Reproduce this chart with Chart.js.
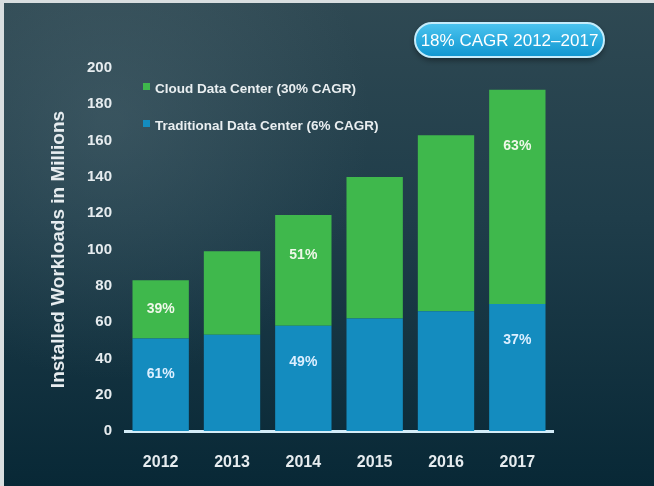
<!DOCTYPE html>
<html>
<head>
<meta charset="utf-8">
<script src="https://cdn.jsdelivr.net/npm/chart.js@4.4.1/dist/chart.umd.min.js"></script>
<style>
    html, body { margin: 0; padding: 0; background: #0b2b3a; }
    #chart { display: block; }
</style>
</head>
<body>
<canvas id="chart" width="654" height="486"></canvas>
<script>
let years = ['2012', '2013', '2014', '2015', '2016', '2017'];
let traditional = [51, 53, 58, 62, 66, 70];
let cloud = [32, 46, 61, 78, 97, 118];
let traditionalShare = ['61%', '', '49%', '', '', '37%'];
let cloudShare = ['39%', '', '51%', '', '', '63%'];
let yMin = 0;
let yMax = 200;
let yStep = 20;
let badgeText = '18% CAGR 2012\u20132017';

const FONT = '"Liberation Sans", Arial, sans-serif';
const GREEN = '#3fb84c';
const BLUE = '#148cbf';

// background, frame and the CAGR badge
const backdrop = {
    id: 'backdrop',
    beforeDraw(chart) {
        let ctx = chart.ctx;
        let w = chart.width, h = chart.height;
        ctx.save();
        let g = ctx.createLinearGradient(0, 0, 0, h);
        g.addColorStop(0, '#2f4953');
        g.addColorStop(0.45, '#1f3d4a');
        g.addColorStop(1, '#082836');
        ctx.fillStyle = g;
        ctx.fillRect(0, 0, w, h);
        let r = ctx.createRadialGradient(110, 120, 10, 110, 120, 260);
        r.addColorStop(0, 'rgba(90,115,125,0.35)');
        r.addColorStop(1, 'rgba(90,115,125,0)');
        ctx.fillStyle = r;
        ctx.fillRect(0, 0, w, h);
        ctx.fillStyle = '#d9dee0';
        ctx.fillRect(0, 0, w, 3);
        ctx.fillRect(0, 0, 4, h);
        ctx.restore();
    },
    afterDraw(chart) {
        let ctx = chart.ctx;
        let x = 415, y = 23, bw = 189, bh = 34, rad = 17;
        ctx.save();
        ctx.shadowColor = 'rgba(0,0,0,0.45)';
        ctx.shadowBlur = 6;
        ctx.shadowOffsetY = 3;
        ctx.beginPath();
        ctx.roundRect(x, y, bw, bh, rad);
        let g = ctx.createLinearGradient(0, y, 0, y + bh);
        g.addColorStop(0, '#4cc4ef');
        g.addColorStop(1, '#0f96d0');
        ctx.fillStyle = g;
        ctx.fill();
        ctx.shadowColor = 'transparent';
        ctx.lineWidth = 2;
        ctx.strokeStyle = '#c4ecfb';
        ctx.stroke();
        ctx.fillStyle = '#ffffff';
        ctx.font = '17px ' + FONT;
        ctx.textAlign = 'center';
        ctx.textBaseline = 'middle';
        ctx.fillText(badgeText, x + bw / 2, y + bh / 2 + 1);
        ctx.restore();
    }
};

// legend drawn inside the plot, cloud first
const innerLegend = {
    id: 'innerLegend',
    afterDraw(chart) {
        let ctx = chart.ctx;
        let left = chart.chartArea.left + 18;
        let top = chart.chartArea.top + 21;
        let items = chart.data.datasets.slice().reverse();
        ctx.save();
        ctx.font = 'bold 13.5px ' + FONT;
        ctx.textBaseline = 'middle';
        items.forEach((ds, i) => {
            let cy = top + i * 37;
            ctx.fillStyle = ds.backgroundColor;
            ctx.fillRect(left, cy - 6, 7, 7);
            ctx.fillStyle = '#e9eef0';
            ctx.fillText(ds.label, left + 12, cy);
        });
        ctx.restore();
    }
};

// share labels inside the bars
const shareLabels = {
    id: 'shareLabels',
    afterDatasetsDraw(chart) {
        let ctx = chart.ctx;
        let shares = [traditionalShare, cloudShare];
        ctx.save();
        ctx.font = 'bold 14px ' + FONT;
        ctx.textAlign = 'center';
        ctx.textBaseline = 'middle';
        chart.data.datasets.forEach((ds, i) => {
            chart.getDatasetMeta(i).data.forEach((bar, j) => {
                let text = shares[i][j];
                if (!text) return;
                let h = bar.base - bar.y;
                let y = i === 0 ? bar.y + 36 : bar.y + Math.min(h / 2, 22 + 0.16 * h);
                ctx.fillStyle = i === 0 ? '#dcefff' : '#eef8e8';
                ctx.fillText(text, bar.x, y);
            });
        });
        ctx.restore();
    }
};

new Chart(document.getElementById('chart').getContext('2d'), {
    type: 'bar',
    data: {
        labels: years,
        datasets: [{
            label: 'Traditional Data Center (6% CAGR)',
            data: traditional,
            backgroundColor: BLUE
        }, {
            label: 'Cloud Data Center (30% CAGR)',
            data: cloud,
            backgroundColor: GREEN
        }]
    },
    options: {
        responsive: false,
        animation: false,
        events: [],
        layout: { padding: { left: 45, right: 101, top: 68, bottom: 7 } },
        datasets: { bar: { categoryPercentage: 1, barPercentage: 0.79 } },
        plugins: {
            legend: { display: false },
            tooltip: { enabled: false }
        },
        scales: {
            x: {
                stacked: true,
                grid: { display: false },
                border: { display: true, color: '#d3ecf8', width: 3 },
                ticks: { color: '#e6ecef', padding: 14, font: { family: FONT, size: 16, weight: 'bold' } },
                afterFit(scale) { scale.height = 48; }
            },
            y: {
                stacked: true,
                min: yMin,
                max: yMax,
                grid: { display: false },
                border: { display: false },
                ticks: { stepSize: yStep, color: '#e6ecef', padding: 5, font: { family: FONT, size: 15, weight: 'bold' } },
                title: {
                    display: true,
                    text: 'Installed Workloads in Millions',
                    color: '#e6ecef',
                    padding: { top: 2, bottom: 4 },
                    font: { family: FONT, size: 19, weight: 'bold' }
                },
                afterFit(scale) { scale.width = 80; }
            }
        }
    },
    plugins: [backdrop, innerLegend, shareLabels]
});
</script>
</body>
</html>
